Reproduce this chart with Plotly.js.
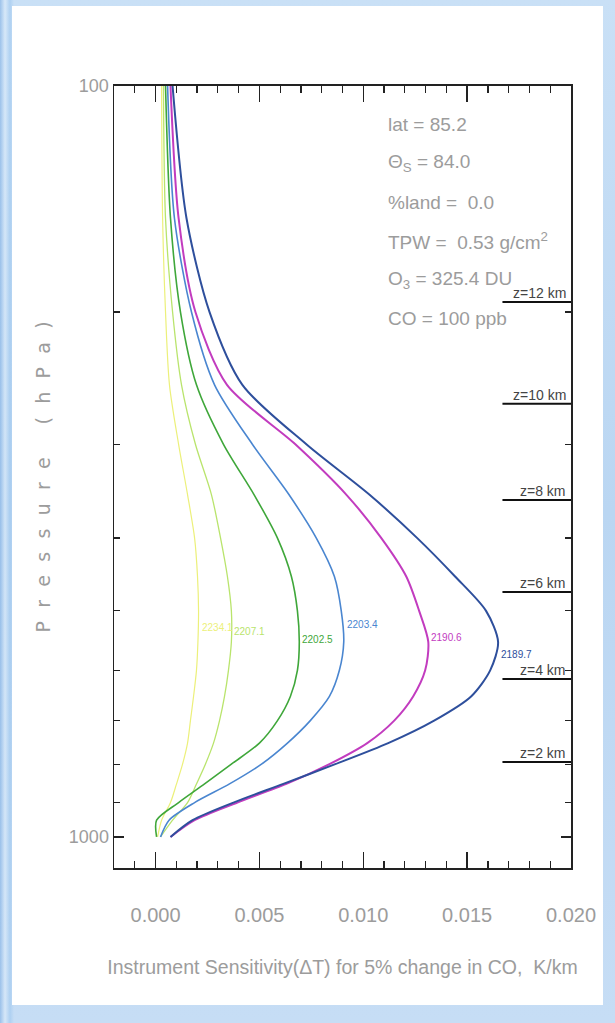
<!DOCTYPE html>
<html>
<head>
<meta charset="utf-8">
<script src="https://cdn.plot.ly/plotly-3.0.1.min.js"></script>
<style>
  html, body { margin: 0; padding: 0; width: 615px; height: 1023px; overflow: hidden; }
  body {
    background:
      linear-gradient(90deg, rgba(120,170,225,0.55) 0px, rgba(225,238,250,0.6) 5px, rgba(150,195,238,0.5) 10px, rgba(190,216,243,0) 14px),
      linear-gradient(180deg, #c9e0f6 0%, #bad6f2 50%, #c6ddf5 100%);
  }
  #chart { position: absolute; left: 12px; top: 6px; width: 591px; height: 999px; }
</style>
</head>
<body>
<div id="chart"></div>
<script>
// Pressure levels (hPa) shared by every sensitivity profile
const pressure = [100, 150, 200, 250, 300, 350, 400, 450, 500, 550, 600, 650, 700, 750, 800, 850, 900, 950, 1000];

// Sensitivity profiles (K/km) per channel, listed top (100 hPa) to bottom (1000 hPa)
const ch2234_1 = [0.00029, 0.00034, 0.00048, 0.00067, 0.00111, 0.00154, 0.00188, 0.00202, 0.00207, 0.00204, 0.00197, 0.00183, 0.00168, 0.00154, 0.00130, 0.00101, 0.00072, 0.00029, 0.00010];
const ch2207_1 = [0.00038, 0.00048, 0.00082, 0.00125, 0.00192, 0.00269, 0.00313, 0.00346, 0.00365, 0.00365, 0.00351, 0.00332, 0.00308, 0.00279, 0.00240, 0.00197, 0.00154, 0.00082, 0.00024];
const ch2202_5 = [0.00048, 0.00072, 0.00120, 0.00197, 0.00327, 0.00474, 0.00587, 0.00654, 0.00683, 0.00692, 0.00683, 0.00649, 0.00587, 0.00500, 0.00365, 0.00236, 0.00111, 0.00005, 0.00005];
const ch2203_4 = [0.00058, 0.00091, 0.00173, 0.00284, 0.00466, 0.00642, 0.00774, 0.00861, 0.00894, 0.00906, 0.00885, 0.00837, 0.00745, 0.00635, 0.00510, 0.00356, 0.00188, 0.00065, 0.00024];
const ch2190_6 = [0.00072, 0.00111, 0.00192, 0.00344, 0.00673, 0.00918, 0.01087, 0.01207, 0.01269, 0.01313, 0.01298, 0.01240, 0.01149, 0.01019, 0.00837, 0.00630, 0.00394, 0.00188, 0.00072];
const ch2189_7 = [0.00082, 0.00149, 0.00260, 0.00418, 0.00726, 0.01029, 0.01260, 0.01442, 0.01591, 0.01649, 0.01611, 0.01519, 0.01341, 0.01120, 0.00865, 0.00615, 0.00375, 0.00178, 0.00072];

const channelLabels = ['2234.1', '2207.1', '2202.5', '2203.4', '2190.6', '2189.7'];
const channelSeries = [ch2234_1, ch2207_1, ch2202_5, ch2203_4, ch2190_6, ch2189_7];
const channelColors = ['#ecf07a', '#b9e46c', '#3fa73a', '#4a86d0', '#c23cbf', '#2e4f9c'];
const channelWidths = [1.2, 1.3, 1.6, 1.6, 2, 2];
const labelYShift = [-17, -21, 2, 17, 4, -13];

// Altitude reference levels (standard atmosphere)
const zLabels = ['z=2 km', 'z=4 km', 'z=6 km', 'z=8 km', 'z=10 km', 'z=12 km'];
const zPressure = [795, 616, 472, 356, 265, 194];
const zMarkX = [0.0167, 0.0200];

// Scene parameters
const infoLines = ['lat = 85.2', 'Θ<sub>S</sub> = 84.0', '%land =  0.0', 'TPW =  0.53 g/cm<sup>2</sup>', 'O<sub>3</sub> = 325.4 DU', 'CO = 100 ppb'];

const xTickVals = [0, 0.005, 0.010, 0.015, 0.020];
const xTickText = ['0.000', '0.005', '0.010', '0.015', '0.020'];
const yTickVals = [100, 1000];
const yTickText = ['100', '1000'];

const sans = '"Liberation Sans", Arial, sans-serif';
const grey = '#9c9c9c';
const sp = '\u2002\u2009';

const traces = channelSeries.map((xs, i) => ({
  type: 'scatter',
  mode: 'lines',
  x: xs,
  y: pressure,
  line: { color: channelColors[i], width: channelWidths[i], shape: 'spline', smoothing: 0.8 },
  name: channelLabels[i],
  hoverinfo: 'skip'
}));

// Short horizontal altitude markers at the right edge
zPressure.forEach((p, i) => {
  traces.push({
    type: 'scatter', mode: 'lines',
    x: zMarkX, y: [p, p],
    line: { color: '#111', width: 2 },
    name: zLabels[i], hoverinfo: 'skip'
  });
});

const annotations = [];
channelSeries.forEach((xs, i) => {
  const peak = Math.max(...xs);
  const k = xs.indexOf(peak);
  annotations.push({
    x: peak, y: Math.log10(pressure[k]), xref: 'x', yref: 'y',
    text: channelLabels[i], showarrow: false,
    xanchor: 'left', yanchor: 'middle', xshift: 1, yshift: labelYShift[i],
    font: { family: sans, size: 10, color: channelColors[i] }
  });
});

infoLines.forEach((t, i) => {
  annotations.push({
    x: 0.595, y: 0.951 - i * 0.0497, xref: 'paper', yref: 'paper',
    text: t, showarrow: false, xanchor: 'left', yanchor: 'middle',
    font: { family: sans, size: 19, color: grey }
  });
});

zPressure.forEach((p, i) => {
  annotations.push({
    x: zMarkX[1], y: Math.log10(p), xref: 'x', yref: 'y',
    text: zLabels[i], showarrow: false, xanchor: 'right', yanchor: 'bottom', xshift: -3, yshift: -1,
    font: { family: sans, size: 14, color: '#444' }
  });
});

const layout = {
  width: 591, height: 999,
  margin: { l: 102, r: 32, t: 80, b: 137 },
  paper_bgcolor: '#ffffff',
  plot_bgcolor: '#ffffff',
  showlegend: false,
  xaxis: {
    range: [-0.002, 0.020],
    tickmode: 'array', tickvals: xTickVals, ticktext: xTickText,
    ticks: 'inside', ticklen: 16, tickwidth: 1.5, tickcolor: '#222',
    minor: { tickmode: 'array', tickvals: [-0.001, 0.001, 0.002, 0.003, 0.004, 0.006, 0.007, 0.008, 0.009, 0.011, 0.012, 0.013, 0.014, 0.016, 0.017, 0.018, 0.019], ticks: 'inside', ticklen: 7, tickwidth: 1.2, tickcolor: '#222' },
    showline: true, linecolor: '#222', linewidth: 2, mirror: 'ticks',
    showgrid: false, zeroline: false,
    ticklabelstandoff: 28,
    tickfont: { family: sans, size: 20, color: grey },
    title: { text: 'Instrument Sensitivity(ΔT) for 5% change in CO,  K/km', font: { family: sans, size: 19.5, color: grey }, standoff: 35 }
  },
  yaxis: {
    type: 'log',
    range: [Math.log10(1100), 2],
    tickmode: 'array', tickvals: yTickVals, ticktext: yTickText,
    ticks: 'inside', ticklen: 10, tickwidth: 1.5, tickcolor: '#222',
    minor: { tickmode: 'array', tickvals: [200, 300, 400, 500, 600, 700, 800, 900], ticks: 'inside', ticklen: 6, tickwidth: 1.2, tickcolor: '#222' },
    showline: true, linecolor: '#222', linewidth: 1.5, mirror: 'ticks',
    showgrid: false, zeroline: false,
    tickfont: { family: sans, size: 18, color: grey },
    title: { text: 'Pressure (hPa)'.split('').join(sp), font: { family: 'DejaVu Sans, sans-serif', size: 19, color: grey }, standoff: 13 }
  },
  annotations: annotations
};

Plotly.newPlot('chart', traces, layout, { staticPlot: true, displayModeBar: false });
</script>
</body>
</html>
